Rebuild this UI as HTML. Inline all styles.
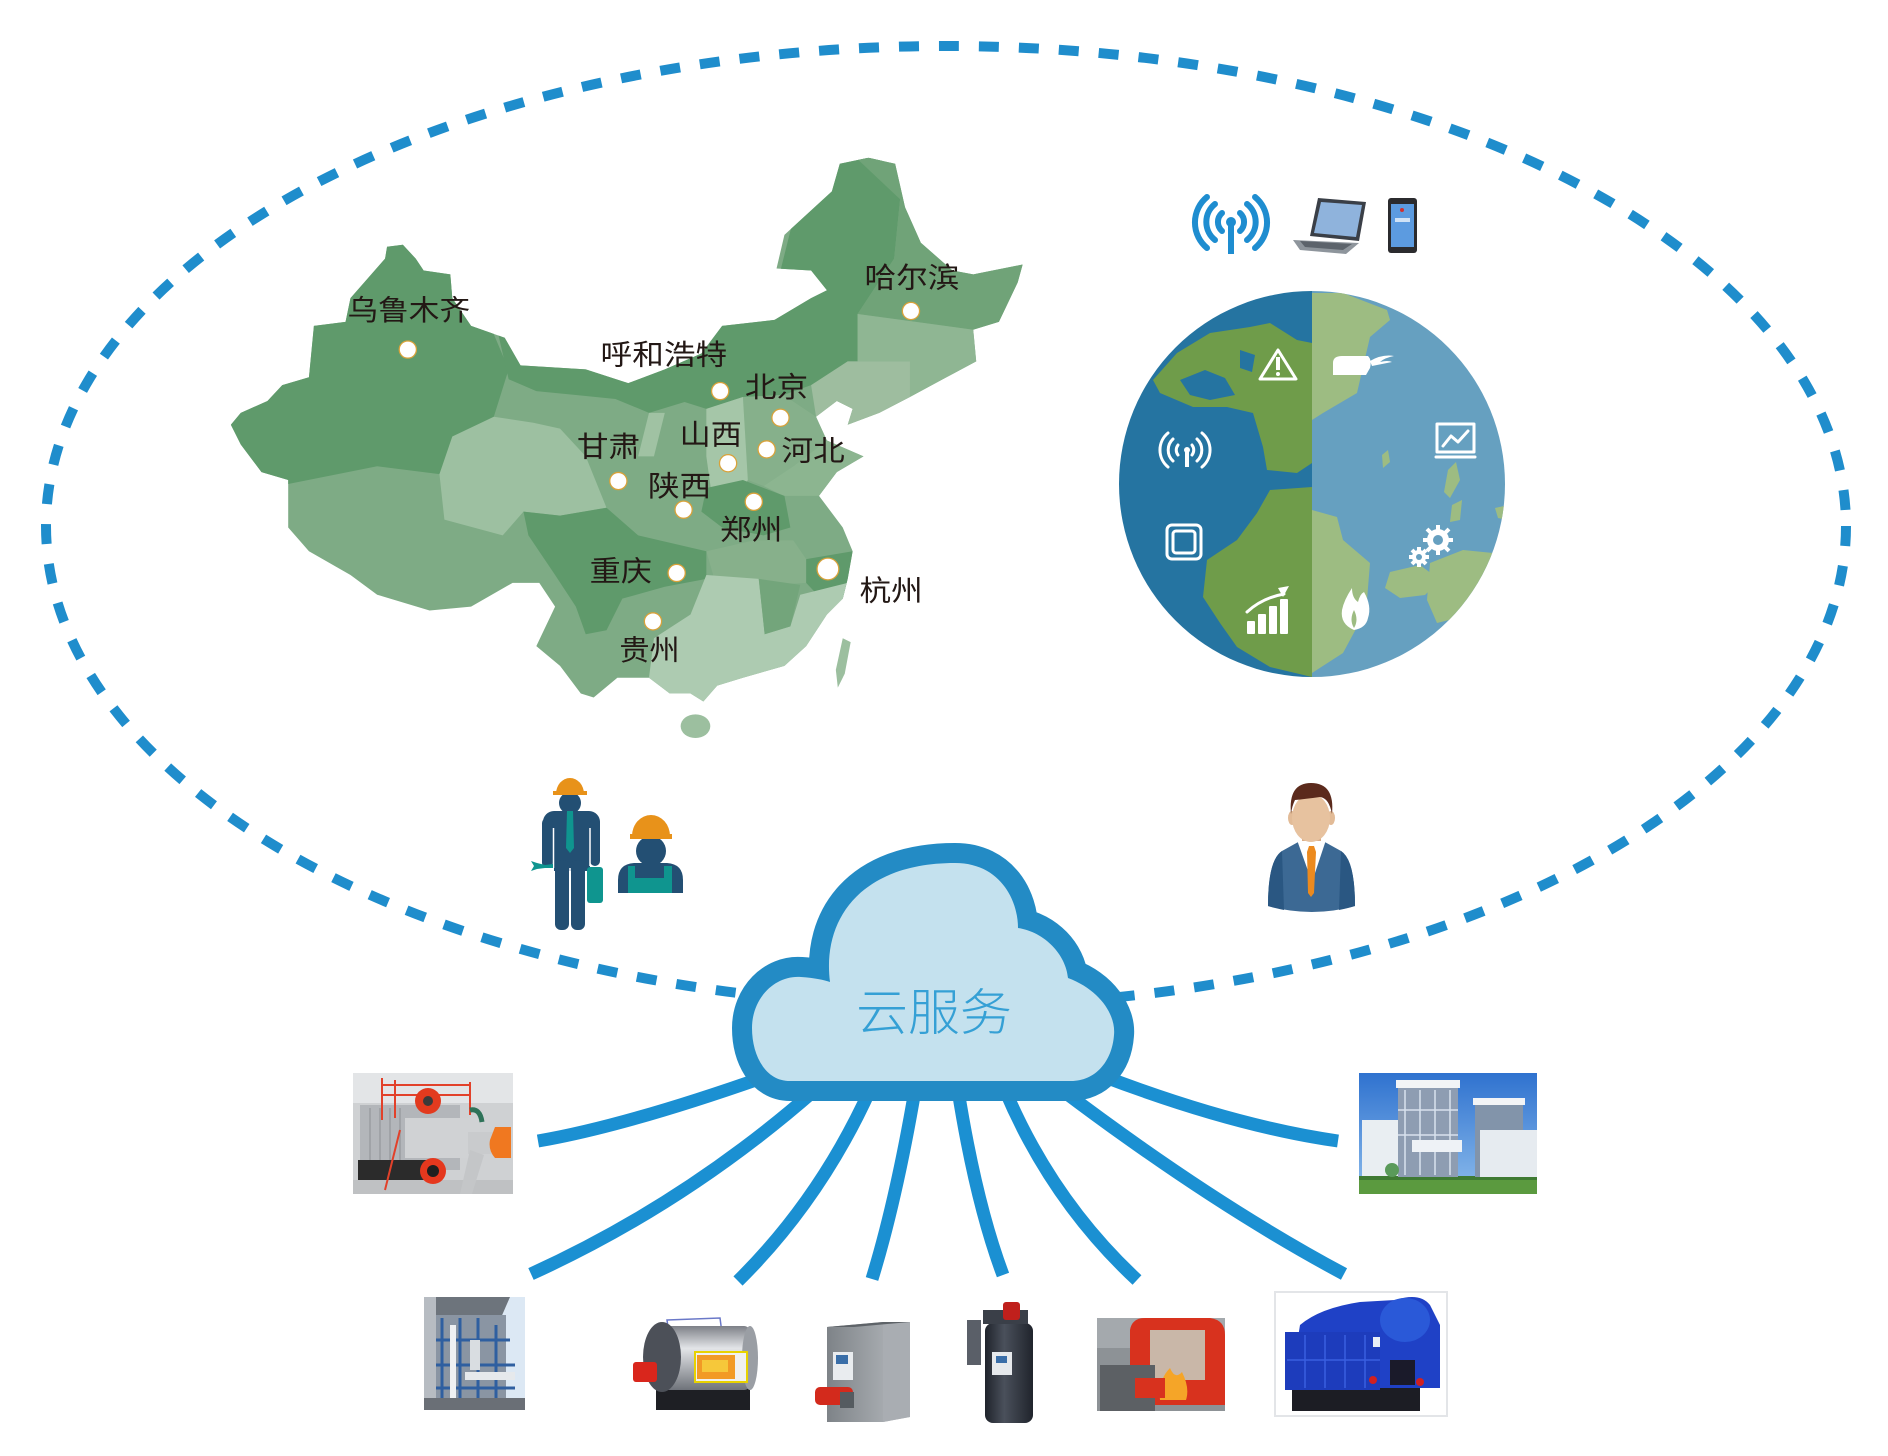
<!DOCTYPE html>
<html><head><meta charset="utf-8">
<style>
html,body{margin:0;padding:0;background:#fff;}
svg{display:block;}
.lb{font-family:"Liberation Sans","Noto Sans CJK SC","WenQuanYi Zen Hei",sans-serif;font-size:29px;fill:#231815;}
</style></head>
<body>
<svg width="1888" height="1456" viewBox="0 0 1888 1456" xmlns="http://www.w3.org/2000/svg">
<defs>
<clipPath id="china"><path d="M405,246 L418,260 426,272 453,276 455,300 474,328 508,340 524,368 590,372 633,386 670,372 707,356 728,328 781,322 818,300 834,292 818,272 783,270 791,236 839,192 847,164 876,158 903,164 913,208 929,244 961,272 982,276 1032,266 1027,284 1008,324 982,332 985,364 955,380 918,400 887,416 855,428 860,412 844,404 823,420 834,444 871,460 844,476 826,500 850,532 860,556 855,584 850,604 834,620 813,652 791,672 749,684 723,692 709,708 696,700 675,700 654,684 622,684 598,704 585,700 564,672 540,652 559,612 543,588 516,588 474,612 432,616 379,600 352,580 310,556 289,532 289,484 262,476 241,448 231,428 241,416 268,404 283,388 310,380 315,328 347,324 352,300 387,260 389,248 Z"/></clipPath>
<clipPath id="globe"><circle cx="1312" cy="484" r="193"/></clipPath>
<linearGradient id="sky" x1="0" y1="0" x2="0" y2="1"><stop offset="0" stop-color="#2f72cf"/><stop offset="1" stop-color="#8cbcec"/></linearGradient>
<linearGradient id="silver" x1="0" y1="0" x2="0" y2="1"><stop offset="0" stop-color="#7d8087"/><stop offset="0.35" stop-color="#e3e5e8"/><stop offset="1" stop-color="#6f737a"/></linearGradient>
<linearGradient id="cab" x1="0" y1="0" x2="1" y2="0"><stop offset="0" stop-color="#7e8388"/><stop offset="1" stop-color="#b8bcc0"/></linearGradient>
<linearGradient id="cyl" x1="0" y1="0" x2="1" y2="0"><stop offset="0" stop-color="#1f232b"/><stop offset="0.4" stop-color="#4a505b"/><stop offset="1" stop-color="#20242c"/></linearGradient>
</defs>

<!-- dashed ellipse -->
<ellipse cx="946" cy="526" rx="900" ry="480" fill="none" stroke="#1f8dcc" stroke-width="10" stroke-dasharray="20 20"/>

<!-- China map -->
<g transform="matrix(0.9885,0,0,0.9885,2.53,1.61)">
<g clip-path="url(#china)">
<rect x="200" y="140" width="900" height="620" fill="#7eab85"/>
<polygon fill="#5f9a6b" points="200,230 430,200 490,320 512,372 497,420 455,444 442,478 379,470 289,488 200,490"/>
<polygon fill="#9dc0a1" points="442,478 455,440 497,420 537,426 564,432 590,460 611,512 564,520 527,516 506,540 447,524"/>
<polygon fill="#5f9a6b" points="500,330 560,360 640,370 700,340 730,300 780,300 800,220 840,140 880,140 908,200 902,260 865,316 865,364 855,364 818,388 790,398 749,400 712,412 690,405 654,416 620,402 580,398 540,394 512,382"/>
<polygon fill="#70a378" points="855,150 903,150 929,244 982,276 1040,260 1008,324 982,332 924,324 865,316 902,260 908,200"/>
<polygon fill="#8fb693" points="865,316 924,324 982,332 990,364 955,380 918,400 918,364 865,364"/>
<polygon fill="#9ebd9f" points="818,388 855,364 918,364 918,400 887,416 855,428 823,420"/>
<polygon fill="#86b08b" points="749,400 790,398 823,420 834,444 800,470 770,490 754,484"/>
<polygon fill="#a5c6a8" points="712,412 749,400 754,484 744,500 717,496 712,460"/>
<polygon fill="#a0c2a3" points="654,416 670,416 659,460 643,460"/>
<polygon fill="#8cb590" points="800,470 834,444 880,455 844,476 826,500 790,500 770,490"/>
<polygon fill="#5f9a6b" points="712,492 749,484 791,500 797,532 770,540 728,532 707,516"/>
<polygon fill="#87b08b" points="712,556 760,545 800,545 813,564 813,588 780,590 720,584"/>
<polygon fill="#5f9a6b" points="527,516 564,520 611,512 643,540 712,556 712,584 670,592 627,604 611,636 590,640 580,612 559,580 532,540"/>
<polygon fill="#5f9a6b" points="813,564 860,556 855,604 828,604 813,588"/>
<polygon fill="#adcbb1" points="654,684 659,644 696,620 712,580 765,584 771,640 797,632 807,600 855,588 880,660 800,730 640,730"/>
<polygon fill="#73a57b" points="765,584 807,590 797,632 771,640"/>
</g>
<ellipse cx="701" cy="733" rx="15" ry="12" fill="#9cbf9f"/>
<polygon fill="#9cbf9f" points="850,644 858,648 852,680 845,694 843,676"/>

<!-- city dots -->
<g fill="#fff" stroke="#d9a23a" stroke-width="1.3">
<circle cx="410" cy="352" r="8.7"/>
<circle cx="919" cy="313" r="8.7"/>
<circle cx="726" cy="394" r="8.7"/>
<circle cx="787" cy="421" r="8.7"/>
<circle cx="773" cy="453" r="8.7"/>
<circle cx="734" cy="467" r="8.7"/>
<circle cx="623" cy="485" r="8.7"/>
<circle cx="689" cy="514" r="8.7"/>
<circle cx="760" cy="506" r="8.7"/>
<circle cx="682" cy="578" r="8.7"/>
<circle cx="835" cy="574" r="11"/>
<circle cx="658" cy="627" r="8.7"/>
</g>
<!-- labels -->
<text class="lb" x="349" y="322" textLength="124" lengthAdjust="spacingAndGlyphs">乌鲁木齐</text>
<text class="lb" x="872" y="289" textLength="96" lengthAdjust="spacingAndGlyphs">哈尔滨</text>
<text class="lb" x="605" y="367" textLength="128" lengthAdjust="spacingAndGlyphs">呼和浩特</text>
<text class="lb" x="751" y="400" textLength="64" lengthAdjust="spacingAndGlyphs">北京</text>
<text class="lb" x="685" y="448" textLength="63" lengthAdjust="spacingAndGlyphs">山西</text>
<text class="lb" x="581" y="460" textLength="64" lengthAdjust="spacingAndGlyphs">甘肃</text>
<text class="lb" x="788" y="464" textLength="64" lengthAdjust="spacingAndGlyphs">河北</text>
<text class="lb" x="653" y="500" textLength="64" lengthAdjust="spacingAndGlyphs">陕西</text>
<text class="lb" x="726" y="544" textLength="63" lengthAdjust="spacingAndGlyphs">郑州</text>
<text class="lb" x="594" y="586" textLength="63" lengthAdjust="spacingAndGlyphs">重庆</text>
<text class="lb" x="867" y="606" textLength="64" lengthAdjust="spacingAndGlyphs">杭州</text>
<text class="lb" x="624" y="666" textLength="61" lengthAdjust="spacingAndGlyphs">贵州</text>
</g>

<!-- top device icons -->
<g fill="none" stroke="#1e8dd0" stroke-width="6" stroke-linecap="round">
<path d="M1222,213 A12,12 0 0 0 1222,231"/><path d="M1240,213 A12,12 0 0 1 1240,231"/>
<path d="M1215,204 A23,23 0 0 0 1215,240"/><path d="M1247,204 A23,23 0 0 1 1247,240"/>
<path d="M1207,197 A33,33 0 0 0 1207,248"/><path d="M1255,197 A33,33 0 0 1 1255,248"/>
</g>
<circle cx="1231" cy="222" r="5" fill="#1e8dd0"/>
<rect x="1228" y="222" width="6" height="32" fill="#1e8dd0"/>
<!-- laptop -->
<polygon points="1318,198 1366,202 1359,241 1310,236" fill="#3a3f47"/>
<polygon points="1321,202 1362,205 1356,237 1314,233" fill="#8fb3dc"/>
<polygon points="1293,240 1359,243 1346,254 1300,250" fill="#8e959c"/>
<polygon points="1300,241 1352,244 1343,250 1305,247" fill="#5c636b"/>
<!-- phone -->
<rect x="1388" y="198" width="29" height="55" rx="3" fill="#2b2b2e"/>
<rect x="1391" y="204" width="23" height="43" fill="#5c9be0"/>
<rect x="1395" y="218" width="15" height="4" fill="#cfe2f6"/>
<circle cx="1402" cy="210" r="2" fill="#d03030"/>

<!-- globe -->
<g clip-path="url(#globe)">
<rect x="1110" y="280" width="202" height="410" fill="#2574a1"/>
<rect x="1312" y="280" width="210" height="410" fill="#66a0c0"/>
<polygon fill="#6f9c4a" points="1153,380 1177,353 1210,333 1250,327 1270,323 1297,340 1312,343 1312,463 1297,473 1267,470 1263,447 1253,413 1227,407 1193,407 1160,393"/>
<polygon fill="#2574a1" points="1180,380 1205,370 1225,378 1235,395 1210,400 1190,395"/>
<polygon fill="#2574a1" points="1240,350 1255,355 1252,372 1240,368"/>
<polygon fill="#6f9c4a" points="1312,487 1270,490 1257,513 1237,540 1207,560 1203,597 1220,623 1237,647 1270,667 1312,677"/>
<polygon fill="#9dbc82" points="1312,293 1343,293 1387,310 1390,320 1370,337 1363,367 1357,393 1323,413 1312,420"/>
<polygon fill="#9dbc82" points="1312,510 1337,517 1343,540 1370,563 1367,600 1357,627 1343,653 1312,673"/>
<polygon fill="#9dbc82" points="1430,563 1463,550 1493,553 1500,580 1477,613 1437,623 1427,600"/>
<polygon fill="#9dbc82" points="1390,572 1420,565 1440,580 1425,595 1400,598 1385,588"/>
<polygon fill="#9dbc82" points="1448,470 1456,462 1460,480 1450,498 1444,492"/>
<polygon fill="#9dbc82" points="1452,505 1462,500 1460,520 1450,522"/>
<polygon fill="#9dbc82" points="1495,508 1508,505 1508,520 1498,518"/>
<polygon fill="#9dbc82" points="1382,455 1388,450 1390,462 1383,468"/>
</g>
<!-- globe icons -->
<g fill="none" stroke="#fff" stroke-width="3" stroke-linejoin="round" stroke-linecap="round">
<polygon points="1278,350 1296,379 1260,379"/>
<path d="M1437,424 H1474 V452 H1437 Z"/>
<path d="M1436,457 H1475"/>
<path d="M1443,446 L1451,436 L1458,442 L1468,431"/>
<rect x="1167" y="525" width="34" height="34" rx="5"/>
<rect x="1173" y="531" width="22" height="22" rx="3"/>
<path d="M1178,445 A8,8 0 0 0 1178,455"/><path d="M1192,445 A8,8 0 0 1 1192,455"/>
<path d="M1173,439 A15,15 0 0 0 1173,461"/><path d="M1197,439 A15,15 0 0 1 1197,461"/>
<path d="M1168,433 A22,22 0 0 0 1168,467"/><path d="M1202,433 A22,22 0 0 1 1202,467"/>
<path d="M1247,612 Q1262,598 1284,594"/>
</g>
<g fill="#fff">
<rect x="1276" y="357" width="4" height="13"/><circle cx="1278" cy="374" r="2"/>
<rect x="1185" y="449" width="4" height="18"/><circle cx="1187" cy="450" r="3"/>
<path d="M1333,375 V363 Q1333,356 1342,356 H1368 Q1372,360 1370,368 L1366,375 Z"/>
<path d="M1370,361 Q1382,354 1394,356 Q1384,358 1380,362 Q1388,360 1392,362 Q1382,364 1372,366 Z"/>
<polygon points="1278,588 1289,586 1283,597"/>
<rect x="1247" y="621" width="8" height="13" rx="1"/>
<rect x="1258" y="614" width="8" height="20" rx="1"/>
<rect x="1269" y="606" width="8" height="28" rx="1"/>
<rect x="1280" y="599" width="8" height="35" rx="1"/>
<path d="M1354,630 Q1340,624 1342,610 Q1344,600 1352,588 Q1352,598 1358,602 Q1360,594 1364,592 Q1372,606 1368,618 Q1366,628 1354,630 Z"/>
<circle cx="1438" cy="540" r="11"/>
<circle cx="1419" cy="557" r="7"/>
</g>
<g stroke="#fff" stroke-width="4">
<path d="M1438,525 V555 M1423,540 H1453 M1427,529 L1449,551 M1449,529 L1427,551"/>
<path d="M1419,547 V567 M1409,557 H1429 M1412,550 L1426,564 M1426,550 L1412,564"/>
</g>
<circle cx="1438" cy="540" r="5" fill="#66a0c0"/>
<circle cx="1419" cy="557" r="3" fill="#66a0c0"/>
<path d="M1354,628 Q1349,620 1354,610 Q1359,620 1354,628 Z" fill="#9dbc82"/>

<!-- workers -->
<g fill="#234f73">
<circle cx="570" cy="803" r="11"/>
<rect x="543" y="811" width="57" height="30" rx="11"/>
<rect x="554" y="815" width="36" height="56"/>
<rect x="542" y="818" width="11" height="50" rx="5"/>
<rect x="590" y="818" width="10" height="48" rx="5"/>
<rect x="555" y="860" width="14" height="70" rx="6"/>
<rect x="571" y="860" width="14" height="70" rx="6"/>
</g>
<g stroke="#fff" stroke-width="1.5">
<line x1="553.5" y1="828" x2="553.5" y2="868"/>
<line x1="590" y1="828" x2="590" y2="866"/>
<line x1="570" y1="868" x2="570" y2="931"/>
</g>
<path d="M556,794 A14,16 0 0 1 584,794 Z" fill="#e8921a"/>
<rect x="553" y="791" width="34" height="4" fill="#e8921a"/>
<polygon points="567,811 573,811 574,848 570,853 566,848" fill="#0f958f"/>
<rect x="587" y="867" width="16" height="36" rx="3" fill="#0f958f"/>
<path d="M531,861 L537,863 L545,865 L553,864 L553,868 L545,868 L537,869 L531,871 L534,866 Z" fill="#0f958f"/>
<path d="M618,893 V880 Q618,864 634,863 H667 Q683,864 683,880 V893 Z" fill="#234f73"/>
<circle cx="651" cy="851" r="15" fill="#234f73"/>
<path d="M632,836 A19,21 0 0 1 670,836 Z" fill="#e8921a"/>
<rect x="630" y="834" width="42" height="5" fill="#e8921a"/>
<rect x="628" y="866" width="44" height="27" fill="#0f958f"/>
<rect x="635" y="863" width="29" height="15" fill="#234f73"/>

<!-- businessman -->
<path d="M1268,906 Q1268,860 1282,851 L1300,841 H1323 L1341,851 Q1355,860 1355,906 Q1312,918 1268,906 Z" fill="#3c6994"/>
<path d="M1268,906 Q1268,860 1282,851 L1284,910 Q1274,908 1268,906 Z" fill="#2a5782"/>
<path d="M1355,906 Q1355,860 1341,851 L1339,910 Q1349,908 1355,906 Z" fill="#2a5782"/>
<polygon points="1297,840 1326,840 1312,882" fill="#fff"/>
<polygon points="1309,846 1314,846 1316,852 1314,893 1311,897 1308,893 1307,852" fill="#ec8a1e"/>
<rect x="1302" y="828" width="19" height="13" fill="#d9ad88"/>
<ellipse cx="1292" cy="818" rx="4" ry="7" fill="#e2bb97"/>
<ellipse cx="1331" cy="818" rx="4" ry="7" fill="#e2bb97"/>
<ellipse cx="1311" cy="818" rx="19" ry="24" fill="#e7c29f"/>
<path d="M1291,814 Q1288,783 1311,783 Q1335,783 1332,814 Q1329,798 1320,797 Q1305,799 1295,800 Q1292,806 1291,814 Z" fill="#5b2a1c"/>

<!-- connectors -->
<g fill="none" stroke="#1b90d2" stroke-width="13">
<path d="M770,1075 Q626,1126 538,1141"/>
<path d="M815,1090 Q685,1204 531,1274"/>
<path d="M870,1090 Q820,1200 738,1281"/>
<path d="M915,1090 Q896,1201 872,1279"/>
<path d="M958,1090 Q976,1203 1003,1275"/>
<path d="M1005,1090 Q1052,1201 1137,1280"/>
<path d="M1062,1090 Q1213,1204 1344,1274"/>
<path d="M1100,1075 Q1233,1126 1338,1141"/>
</g>

<!-- cloud -->
<path id="cl" d="M790,1081 C765,1081 752,1055 752,1028 C752,998 775,975 801,977 C815,978 824,980 830,982 C822,920 860,863 955,863 C1000,863 1018,900 1018,928 C1045,932 1066,955 1068,978 C1100,990 1116,1015 1114,1035 C1112,1062 1095,1081 1071,1081 Z" fill="#238bc5" stroke="#238bc5" stroke-width="40" stroke-linejoin="round"/>
<path d="M790,1081 C765,1081 752,1055 752,1028 C752,998 775,975 801,977 C815,978 824,980 830,982 C822,920 860,863 955,863 C1000,863 1018,900 1018,928 C1045,932 1066,955 1068,978 C1100,990 1116,1015 1114,1035 C1112,1062 1095,1081 1071,1081 Z" fill="#c4e1ee"/>
<text x="856" y="1030" font-family="'Liberation Sans','Noto Sans CJK SC',sans-serif" font-size="50" font-weight="300" fill="#35a0d5" textLength="156" lengthAdjust="spacingAndGlyphs">云服务</text>

<!-- image a: boiler room -->
<g>
<rect x="353" y="1073" width="160" height="121" fill="#cfd1d3"/>
<rect x="353" y="1073" width="160" height="30" fill="#e3e5e7"/>
<rect x="360" y="1105" width="100" height="65" fill="#b3b6ba"/>
<g stroke="#9a9da1" stroke-width="1.5"><line x1="370" y1="1108" x2="370" y2="1165"/><line x1="380" y1="1108" x2="380" y2="1165"/><line x1="390" y1="1108" x2="390" y2="1165"/><line x1="400" y1="1108" x2="400" y2="1165"/></g>
<rect x="358" y="1160" width="80" height="20" fill="#2b2b2b"/>
<rect x="353" y="1180" width="160" height="14" fill="#bfc1c3"/>
<rect x="405" y="1118" width="75" height="40" fill="#d0d2d4"/>
<g stroke="#e2412a" stroke-width="2" fill="none"><path d="M382,1078 V1120 M395,1080 V1118 M382,1085 H470 M382,1095 H470 M470,1082 V1115 M400,1130 L385,1190"/></g>
<circle cx="428" cy="1101" r="13" fill="#e23a1e"/><circle cx="428" cy="1101" r="5" fill="#3a3a3a"/>
<circle cx="433" cy="1171" r="13" fill="#e5381e"/><circle cx="433" cy="1171" r="6" fill="#1f1f1f"/>
<path d="M470,1110 Q480,1108 482,1122" stroke="#2e7258" stroke-width="5" fill="none"/>
<rect x="468" y="1132" width="30" height="22" fill="#c9cbcd"/>
<path d="M495,1127 H511 V1158 H495 Q488,1150 490,1140 Z" fill="#f07820"/>
<polygon points="470,1150 484,1155 472,1194 460,1194" fill="#c4c6c8"/>
</g>

<!-- image b: power plant -->
<g>
<rect x="1359" y="1073" width="178" height="121" fill="url(#sky)"/>
<rect x="1359" y="1179" width="178" height="15" fill="#5b9a3f"/>
<rect x="1359" y="1176" width="178" height="4" fill="#3f7a33"/>
<rect x="1362" y="1120" width="36" height="56" fill="#e9eef2"/>
<rect x="1398" y="1085" width="60" height="92" fill="#8e9db2"/>
<rect x="1396" y="1080" width="64" height="8" fill="#f2f4f6"/>
<g stroke="#d8e2ee" stroke-width="1.5"><line x1="1405" y1="1090" x2="1405" y2="1175"/><line x1="1420" y1="1090" x2="1420" y2="1175"/><line x1="1435" y1="1090" x2="1435" y2="1175"/><line x1="1450" y1="1090" x2="1450" y2="1175"/><line x1="1398" y1="1110" x2="1458" y2="1110"/><line x1="1398" y1="1135" x2="1458" y2="1135"/></g>
<rect x="1412" y="1140" width="50" height="12" fill="#eef2f6"/>
<rect x="1475" y="1103" width="48" height="74" fill="#8294aa"/>
<rect x="1473" y="1098" width="52" height="7" fill="#f2f4f6"/>
<rect x="1480" y="1130" width="57" height="47" fill="#e6ebf0"/>
<circle cx="1392" cy="1170" r="7" fill="#5a9a5a"/>
</g>

<!-- image c: industrial tower -->
<g>
<rect x="424" y="1297" width="101" height="113" fill="#dce8f4"/>
<rect x="424" y="1297" width="12" height="113" fill="#b7bcc2"/>
<polygon points="436,1297 510,1297 500,1320 436,1320" fill="#6d747c"/>
<rect x="436" y="1315" width="70" height="95" fill="#8a95a3"/>
<g stroke="#2f5fa0" stroke-width="3"><line x1="442" y1="1318" x2="442" y2="1410"/><line x1="460" y1="1318" x2="460" y2="1410"/><line x1="478" y1="1318" x2="478" y2="1410"/><line x1="496" y1="1325" x2="496" y2="1410"/><line x1="436" y1="1340" x2="510" y2="1340"/><line x1="436" y1="1365" x2="515" y2="1365"/><line x1="436" y1="1388" x2="515" y2="1388"/></g>
<rect x="450" y="1325" width="6" height="85" fill="#eef0f2"/>
<rect x="470" y="1340" width="10" height="30" fill="#d9dde1"/>
<rect x="465" y="1372" width="50" height="8" fill="#e6e9ec"/>
<rect x="424" y="1398" width="101" height="12" fill="#6a6f76"/>
</g>

<!-- image d: horizontal boiler -->
<g>
<polygon points="667,1320 720,1318 722,1333 669,1335" fill="none" stroke="#6a78c8" stroke-width="1.5"/>
<rect x="656" y="1388" width="94" height="22" fill="#1e1f24"/>
<rect x="662" y="1326" width="88" height="64" rx="6" fill="url(#silver)"/>
<ellipse cx="750" cy="1358" rx="8" ry="32" fill="#9a9ea4"/>
<ellipse cx="662" cy="1357" rx="19" ry="35" fill="#4c5058"/>
<rect x="695" y="1352" width="52" height="30" fill="#f0f0f0" stroke="#e8d200" stroke-width="2"/>
<rect x="697" y="1355" width="38" height="24" fill="#f29a25"/>
<rect x="702" y="1360" width="26" height="12" fill="#f6c83a"/>
<rect x="633" y="1362" width="24" height="20" rx="3" fill="#d9261c"/>
</g>

<!-- image e: cabinet boiler -->
<g>
<polygon points="827,1327 883,1322 910,1322 910,1417 883,1422 827,1422" fill="url(#cab)"/>
<polygon points="883,1322 910,1322 910,1417 883,1422" fill="#a9adb2"/>
<polygon points="827,1327 883,1322 910,1322 854,1327" fill="#5e6368"/>
<rect x="833" y="1352" width="20" height="28" fill="#e9ecef"/>
<rect x="836" y="1355" width="12" height="9" fill="#3a6ea8"/>
<rect x="815" y="1387" width="38" height="18" rx="5" fill="#d32a1c"/>
<rect x="840" y="1392" width="14" height="16" fill="#555b60"/>
</g>

<!-- image f: vertical boiler -->
<g>
<rect x="985" y="1323" width="48" height="100" rx="8" fill="url(#cyl)"/>
<rect x="983" y="1310" width="45" height="14" fill="#3a3f48"/>
<rect x="1003" y="1302" width="17" height="18" rx="3" fill="#c0201c"/>
<rect x="967" y="1320" width="14" height="45" fill="#5a5f68"/>
<rect x="992" y="1352" width="20" height="23" fill="#e6e9ec"/>
<rect x="996" y="1356" width="11" height="7" fill="#3a6ea8"/>
</g>

<!-- image g: red furnace -->
<g>
<rect x="1097" y="1318" width="128" height="93" fill="#8d9296"/>
<rect x="1097" y="1318" width="128" height="30" fill="#a4a9ad"/>
<path d="M1130,1330 Q1132,1318 1145,1318 H1210 Q1225,1320 1225,1335 V1405 H1130 Z" fill="#d8321e"/>
<rect x="1150" y="1330" width="55" height="50" fill="#c9b7a8"/>
<path d="M1160,1400 Q1158,1380 1170,1368 Q1175,1380 1182,1372 Q1190,1388 1186,1400 Z" fill="#f5a528"/>
<rect x="1100" y="1365" width="55" height="46" fill="#5c6064"/>
<rect x="1135" y="1378" width="30" height="20" fill="#d8321e"/>
</g>

<!-- image h: blue boiler -->
<g>
<rect x="1275" y="1292" width="172" height="124" fill="#fff" stroke="#e3e5e8" stroke-width="2"/>
<rect x="1292" y="1386" width="128" height="25" fill="#1c1d24"/>
<path d="M1300,1325 Q1320,1308 1360,1302 L1395,1300 Q1420,1292 1430,1305 L1440,1325 V1388 H1290 Z" fill="#1f41c6"/>
<rect x="1285" y="1332" width="95" height="58" fill="#1d3cbc"/>
<g stroke="#3a5fe0" stroke-width="1.5"><line x1="1305" y1="1335" x2="1305" y2="1388"/><line x1="1325" y1="1335" x2="1325" y2="1388"/><line x1="1345" y1="1335" x2="1345" y2="1388"/><line x1="1365" y1="1335" x2="1365" y2="1388"/><line x1="1287" y1="1360" x2="1380" y2="1360"/></g>
<ellipse cx="1405" cy="1320" rx="25" ry="22" fill="#2a59d8"/>
<rect x="1390" y="1360" width="25" height="25" fill="#1a1a2a"/>
<circle cx="1373" cy="1380" r="4" fill="#d02020"/>
<circle cx="1420" cy="1382" r="4" fill="#d02020"/>
<rect x="1373" y="1337" width="7" height="10" fill="#e8eef6"/>
</g>
</svg>
</body></html>
